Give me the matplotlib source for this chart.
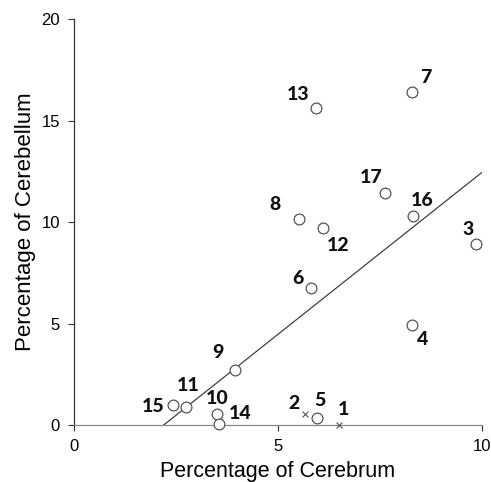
import matplotlib
matplotlib.use("Agg")
import matplotlib.pyplot as plt

# Data (percentage of cerebrum, percentage of cerebellum)
circle_ids = ["3", "4", "5", "6", "7", "8", "9", "10", "11", "12", "13", "14", "15", "16", "17"]
circle_x = [9.86, 8.28, 5.95, 5.82, 8.29, 5.51, 3.95, 3.50, 2.75, 6.11, 5.92, 3.56, 2.43, 8.30, 7.63]
circle_y = [8.90, 4.94, 0.33, 6.75, 16.40, 10.16, 2.69, 0.53, 0.89, 9.70, 15.63, 0.05, 0.97, 10.28, 11.43]

cross_ids = ["1", "2"]
cross_x = [6.50, 5.65]
cross_y = [0.00, 0.53]

# Trend line
trend_x = [2.2, 10.0]
trend_y = [0.0, 12.45]

x_ticks = [0, 5, 10]
y_ticks = [0, 5, 10, 15, 20]

# label offsets in pixels (dx right, dy down)
label_offsets_px = {
    "1": (4, -15), "2": (-11, -11), "3": (-8, -15), "4": (11, 15),
    "5": (3, -18), "6": (-14, -10), "7": (14, -15), "8": (-24, -14),
    "9": (-17, -18), "10": (0, -16), "11": (2, -21), "12": (15, 17),
    "13": (-17, -13), "14": (21, -10), "15": (-20, 1), "16": (9, -16),
    "17": (-14, -16),
}

fig = plt.figure(figsize=(4.91, 4.82), dpi=100)
ax = fig.add_axes([0.1507, 0.1183, 0.831, 0.842])

ax.plot(trend_x, trend_y, color="#404040", lw=0.9, zorder=1)
ax.scatter(circle_x, circle_y, s=60, facecolors="white", edgecolors="#555555",
           linewidths=0.9, zorder=3, clip_on=False)
ax.scatter(cross_x, cross_y, s=18, marker="x", color="#555555",
           linewidths=0.8, zorder=3, clip_on=False)

px2pt = 0.72
for ids, xs, ys in ((circle_ids, circle_x, circle_y), (cross_ids, cross_x, cross_y)):
    for i, x, y in zip(ids, xs, ys):
        dx, dy = label_offsets_px[i]
        ax.annotate(i, (x, y), xytext=(dx * px2pt, -dy * px2pt),
                    textcoords="offset points", ha="center", va="center",
                    fontsize=14, fontweight="black", family="Lato",
                    color="#111111", zorder=4)

ax.set_xlim(0, 10)
ax.set_ylim(0, 20)
ax.set_xticks(x_ticks)
ax.set_yticks(y_ticks)
for s in ("top", "right"):
    ax.spines[s].set_visible(False)
ax.spines["left"].set_color("#333333")
ax.spines["bottom"].set_color("#888888")
ax.spines["left"].set_linewidth(0.9)
ax.spines["bottom"].set_linewidth(0.9)
ax.tick_params(axis="both", direction="out", length=4, width=0.8,
               labelsize=12, colors="#333333", labelcolor="black")
ax.tick_params(axis="x", pad=6)
ax.tick_params(axis="y", pad=6)
for lab in ax.get_xticklabels() + ax.get_yticklabels():
    lab.set_family("Liberation Sans")

ax.set_xlabel("Percentage of Cerebrum", fontsize=15.5, family="Liberation Sans", labelpad=5)
ax.set_ylabel("Percentage of Cerebellum", fontsize=16, family="Liberation Sans", labelpad=4)

fig.savefig("out.png", dpi=100)
